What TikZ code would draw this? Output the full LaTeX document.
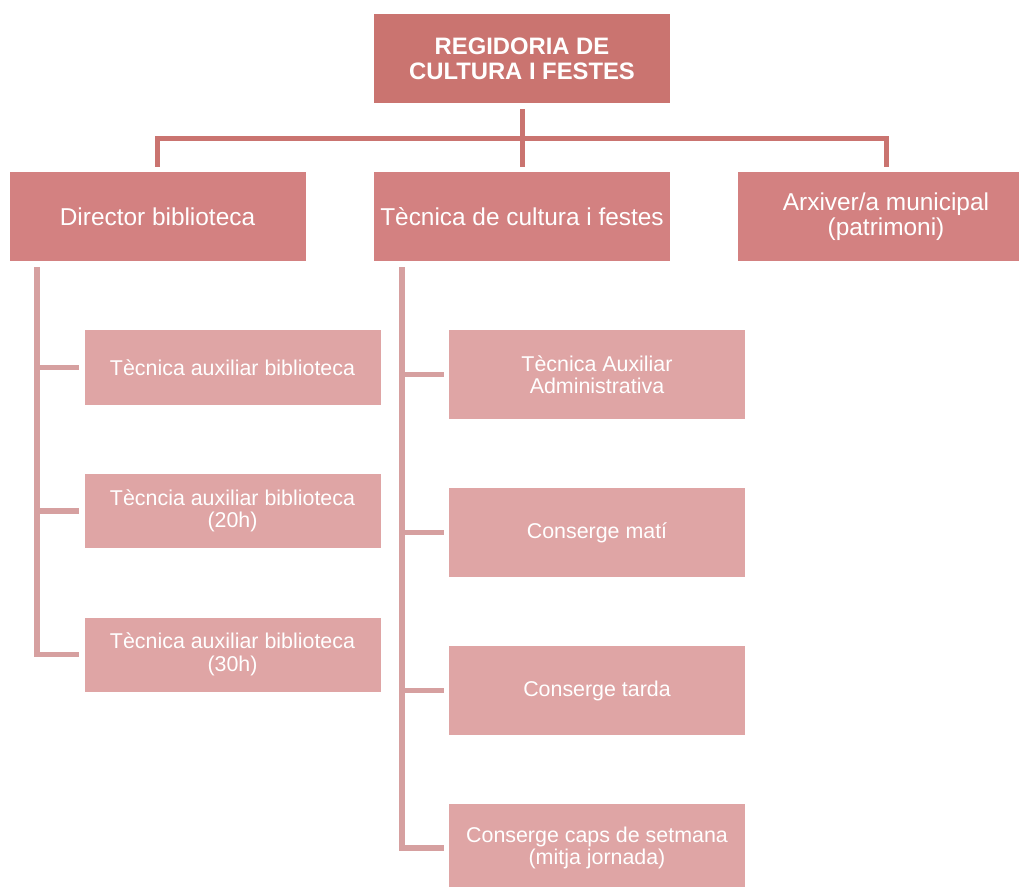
\documentclass[tikz,border=0pt]{standalone}
\usepackage{fontspec}
\setmainfont{Liberation Sans}
\usepackage{tikz}
\usetikzlibrary{arrows,shapes}
\definecolor{headred}{HTML}{CA7470}
\definecolor{unitred}{HTML}{D38181}
\definecolor{subred}{HTML}{DFA5A5}
\definecolor{subline}{HTML}{D6A0A0}
\tikzstyle{head}=[rectangle,fill=headred,text=white,minimum width=296pt,minimum height=89pt,inner sep=0pt,align=center,font=\bfseries\fontsize{23.8}{25}\selectfont]
\tikzstyle{unit}=[rectangle,fill=unitred,text=white,minimum width=296pt,minimum height=89pt,inner sep=0pt,align=center,font=\fontsize{24.4}{25.5}\selectfont]
\tikzstyle{subunit}=[rectangle,fill=subred,text=white,minimum width=296pt,minimum height=89pt,inner sep=0pt,align=center,font=\fontsize{21.4}{22.5}\selectfont]
\tikzstyle{link} = [draw,headred,line width=5pt,-]
\tikzstyle{sublink} = [draw,subline,line width=5.5pt,-]

\begin{document}
\begin{tikzpicture}[x=1pt,y=-1pt]
  \useasboundingbox (0,0) rectangle (1019,886);
  \node[head] (top) at (522,58.5) {REGIDORIA DE\\CULTURA I FESTES};
  \node[unit] (dir) at (157.5,216.5) {Director biblioteca};
  \node[unit] (tec) at (522,216.5) {Tècnica de cultura i festes};
  \node[unit] (arx) at (886,216.5) {Arxiver/a municipal\\(patrimoni)};
  % biblioteca
  \node[subunit,minimum height=75pt] (bib1) at (232.5,367.5) {Tècnica auxiliar biblioteca};
  \node[subunit,minimum height=74pt] (bib2) at (232.5,511) {Tècncia auxiliar biblioteca\\(20h)};
  \node[subunit,minimum height=74pt] (bib3) at (232.5,654.5) {Tècnica auxiliar biblioteca\\(30h)};
  % cultura i festes
  \node[subunit] (cul1) at (597,374.5) {Tècnica Auxiliar\\Administrativa};
  \node[subunit] (cul2) at (597,532.5) {Conserge matí};
  \node[subunit] (cul3) at (597,690.5) {Conserge tarda};
  \node[subunit] (cul4) at (597,848) {Conserge caps de setmana\\(mitja jornada)};
  \coordinate (bar) at (522,138);
  \coordinate (bibline) at (37,267);
  \coordinate (culline) at (402,267);
  \draw[link,shorten <=6pt,shorten >=5pt] (top) -- (tec);
  \draw[link,shorten <=5pt,shorten >=5pt] (dir.north) |- (bar) -| (arx.north);
  \draw[sublink,shorten >=5pt] (bibline) |- (bib3.west);
  \draw[sublink,shorten >=5pt] (bibline |- bib1.west) -- (bib1.west);
  \draw[sublink,shorten >=5pt] (bibline |- bib2.west) -- (bib2.west);
  \draw[sublink,shorten >=5pt] (culline) |- (cul4.west);
  \draw[sublink,shorten >=5pt] (culline |- cul1.west) -- (cul1.west);
  \draw[sublink,shorten >=5pt] (culline |- cul2.west) -- (cul2.west);
  \draw[sublink,shorten >=5pt] (culline |- cul3.west) -- (cul3.west);
\end{tikzpicture}
\end{document}
